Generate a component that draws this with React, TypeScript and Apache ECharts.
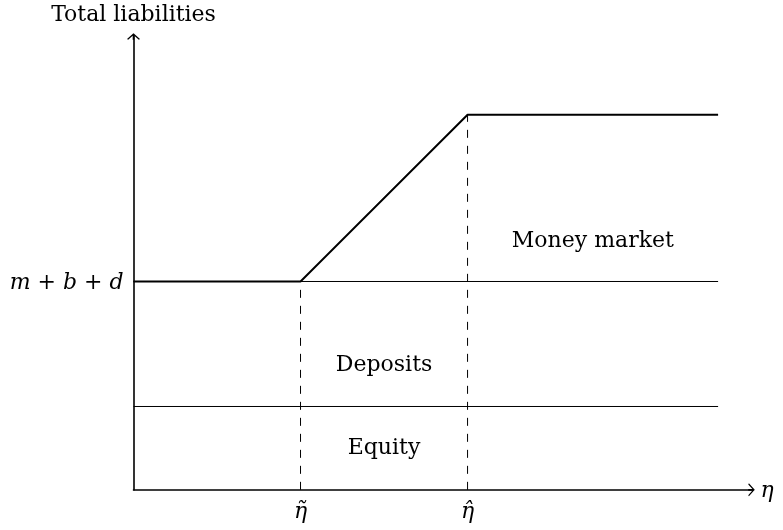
import React, { useEffect, useRef } from "react";
import * as echarts from "echarts";

// ---- data ----
const xTickValues = [1, 2];
const xTickLabels = ["η̃", "η̂"];
const yTickValues = [2.5];
const liabilityX = [0, 1, 2, 3.5];
const liabilityY = [2.5, 2.5, 4.5, 4.5];
const mbdLevel = 2.5;
const equityLevel = 1;
const lineStart = 0;
const lineEnd = 3.5;
const dashedX = [1, 2];
const dashedTop = [2.5, 4.5];
const regionNames = ["Money market", "Deposits", "Equity"];
const regionX = [2.75, 1.5, 1.5];
const regionY = [3.0, 1.52, 0.52];

const FONT = "DejaVu Serif";
const arrowPath =
  "path://M0,9 L10,0 L20,9 L18.2,10 L10,2.6 L1.8,10 Z M8.75,0.8 L11.25,0.8 L11.25,10 L8.75,10 Z";

export default function App() {
  const ref = useRef<HTMLDivElement>(null);
  useEffect(() => {
    document.body.style.margin = "0";
    const chart = echarts.init(ref.current!, null, { renderer: "svg" });
    const axisLine = {
      show: true,
      symbol: ["none", arrowPath],
      symbolSize: [13, 7],
      lineStyle: { color: "#000", width: 1.6 },
    };
    const series: any[] = [
      {
        type: "line",
        data: [[lineStart, mbdLevel], [lineEnd, mbdLevel]],
        symbol: "none",
        lineStyle: { color: "#000", width: 1 },
      },
      {
        type: "line",
        data: [[lineStart, equityLevel], [lineEnd, equityLevel]],
        symbol: "none",
        lineStyle: { color: "#000", width: 1 },
      },
      ...dashedX.map((x, i) => ({
        type: "line",
        data: [[x, 0], [x, dashedTop[i]]],
        symbol: "none",
        lineStyle: { color: "#000", width: 1, type: [8, 8] },
      })),
      {
        type: "line",
        data: liabilityX.map((x, i) => [x, liabilityY[i]]),
        symbol: "none",
        lineStyle: { color: "#000", width: 2 },
        z: 5,
      },
      {
        type: "scatter",
        symbolSize: 0,
        itemStyle: { opacity: 1 },
        data: regionNames.map((n, i) => ({ name: n, value: [regionX[i], regionY[i]] })),
        label: {
          show: true,
          position: "inside",
          formatter: "{b}",
          color: "#000",
          opacity: 1,
          fontFamily: FONT,
          fontSize: 22,
        },
      },
    ];
    chart.setOption({
      animation: false,
      grid: { left: 133.5, top: 36.5, width: 618, height: 453.33 },
      xAxis: {
        type: "value",
        min: 0,
        max: 3.7,
        splitLine: { show: false },
        axisTick: { show: false },
        axisLine,
        name: "η",
        nameLocation: "end",
        nameGap: 9,
        nameTextStyle: { fontFamily: FONT, fontStyle: "italic", fontSize: 22, color: "#000", verticalAlign: "middle" },
        axisLabel: {
          customValues: xTickValues,
          formatter: (v: number) => xTickLabels[xTickValues.indexOf(v)] ?? "",
          fontFamily: FONT,
          fontStyle: "italic",
          fontSize: 22,
          color: "#000",
          margin: 10,
        },
      },
      yAxis: {
        type: "value",
        min: 0,
        max: 5.44,
        splitLine: { show: false },
        axisTick: { show: false },
        axisLine,
        name: "Total liabilities",
        nameLocation: "end",
        nameGap: 12,
        nameTextStyle: { fontFamily: FONT, fontSize: 22, color: "#000", align: "center" },
        axisLabel: {
          customValues: yTickValues,
          formatter: () => "{i|m} + {i|b} + {i|d}",
          fontFamily: FONT,
          fontSize: 22,
          color: "#000",
          margin: 10,
          rich: { i: { fontFamily: FONT, fontStyle: "italic", fontSize: 22, color: "#000" } },
        },
      },
      series,
    });
    return () => chart.dispose();
  }, []);
  return <div ref={ref} style={{ position: "fixed", left: 0, top: 0, width: 783, height: 530 }} />;
}
